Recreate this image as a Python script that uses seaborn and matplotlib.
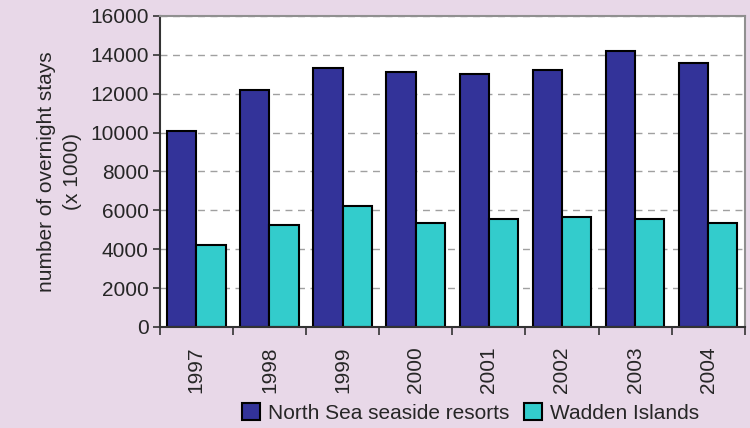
import pandas as pd
import numpy as np
import matplotlib.pyplot as plt
import seaborn as sns
from matplotlib.ticker import FixedLocator, NullFormatter

years = ['1997', '1998', '1999', '2000', '2001', '2002', '2003', '2004']
north_sea = [10100, 12200, 13300, 13100, 13000, 13200, 14200, 13600]
wadden = [4200, 5250, 6200, 5350, 5550, 5650, 5550, 5350]
series_names = ['North Sea seaside resorts', 'Wadden Islands']

df = pd.DataFrame({
    'year': years * 2,
    'stays': north_sea + wadden,
    'region': [series_names[0]] * len(years) + [series_names[1]] * len(years),
})

sns.set_theme(style='white')
plt.rcParams['font.family'] = ['Liberation Sans', 'DejaVu Sans']

bg = '#E8D8E8'
fs = 15
fig, ax = plt.subplots(figsize=(7.5, 4.28), dpi=100)
fig.patch.set_facecolor(bg)
ax.set_facecolor('white')

sns.barplot(data=df, x='year', y='stays', hue='region',
            palette=['#333399', '#33CCCC'], saturation=1,
            edgecolor='black', linewidth=1.5, width=0.8, ax=ax)

ax.set_ylim(0, 16000)
ax.set_yticks(np.arange(0, 16001, 2000))
ax.set_xlim(-0.5, len(years) - 0.5)
ax.yaxis.grid(True, linestyle=(0, (5, 4)), color='#A0A0A0', linewidth=1)
ax.set_axisbelow(True)

ax.set_xlabel('')
ax.set_ylabel('number of overnight stays\n(x 1000)', fontsize=fs, linespacing=1.45, labelpad=6)
ax.tick_params(axis='y', labelsize=fs, length=5, width=1.2, direction='out', left=True,
               color='#333333', pad=3)
ax.tick_params(axis='x', labelsize=fs, rotation=90, length=0, pad=14)
ax.xaxis.set_minor_locator(FixedLocator(np.arange(-0.5, len(years), 1)))
ax.xaxis.set_minor_formatter(NullFormatter())
ax.tick_params(axis='x', which='minor', length=6, width=1.2, direction='out', bottom=True, color='#333333')

for side in ['left', 'bottom']:
    ax.spines[side].set_color('#333333')
    ax.spines[side].set_linewidth(1.5)
for side in ['top', 'right']:
    ax.spines[side].set_color('#909090')
    ax.spines[side].set_linewidth(1.5)

ax.legend(title=None, loc='center', bbox_to_anchor=(0.628, 0.035),
          bbox_transform=fig.transFigure, ncol=2,
          frameon=False, fontsize=fs, handlelength=0.85, handleheight=0.85,
          handletextpad=0.4, columnspacing=0.7, borderpad=0)

plt.subplots_adjust(left=0.213, right=0.993, top=0.963, bottom=0.236)
plt.savefig('out.png', dpi=100, facecolor=bg)
plt.close()
